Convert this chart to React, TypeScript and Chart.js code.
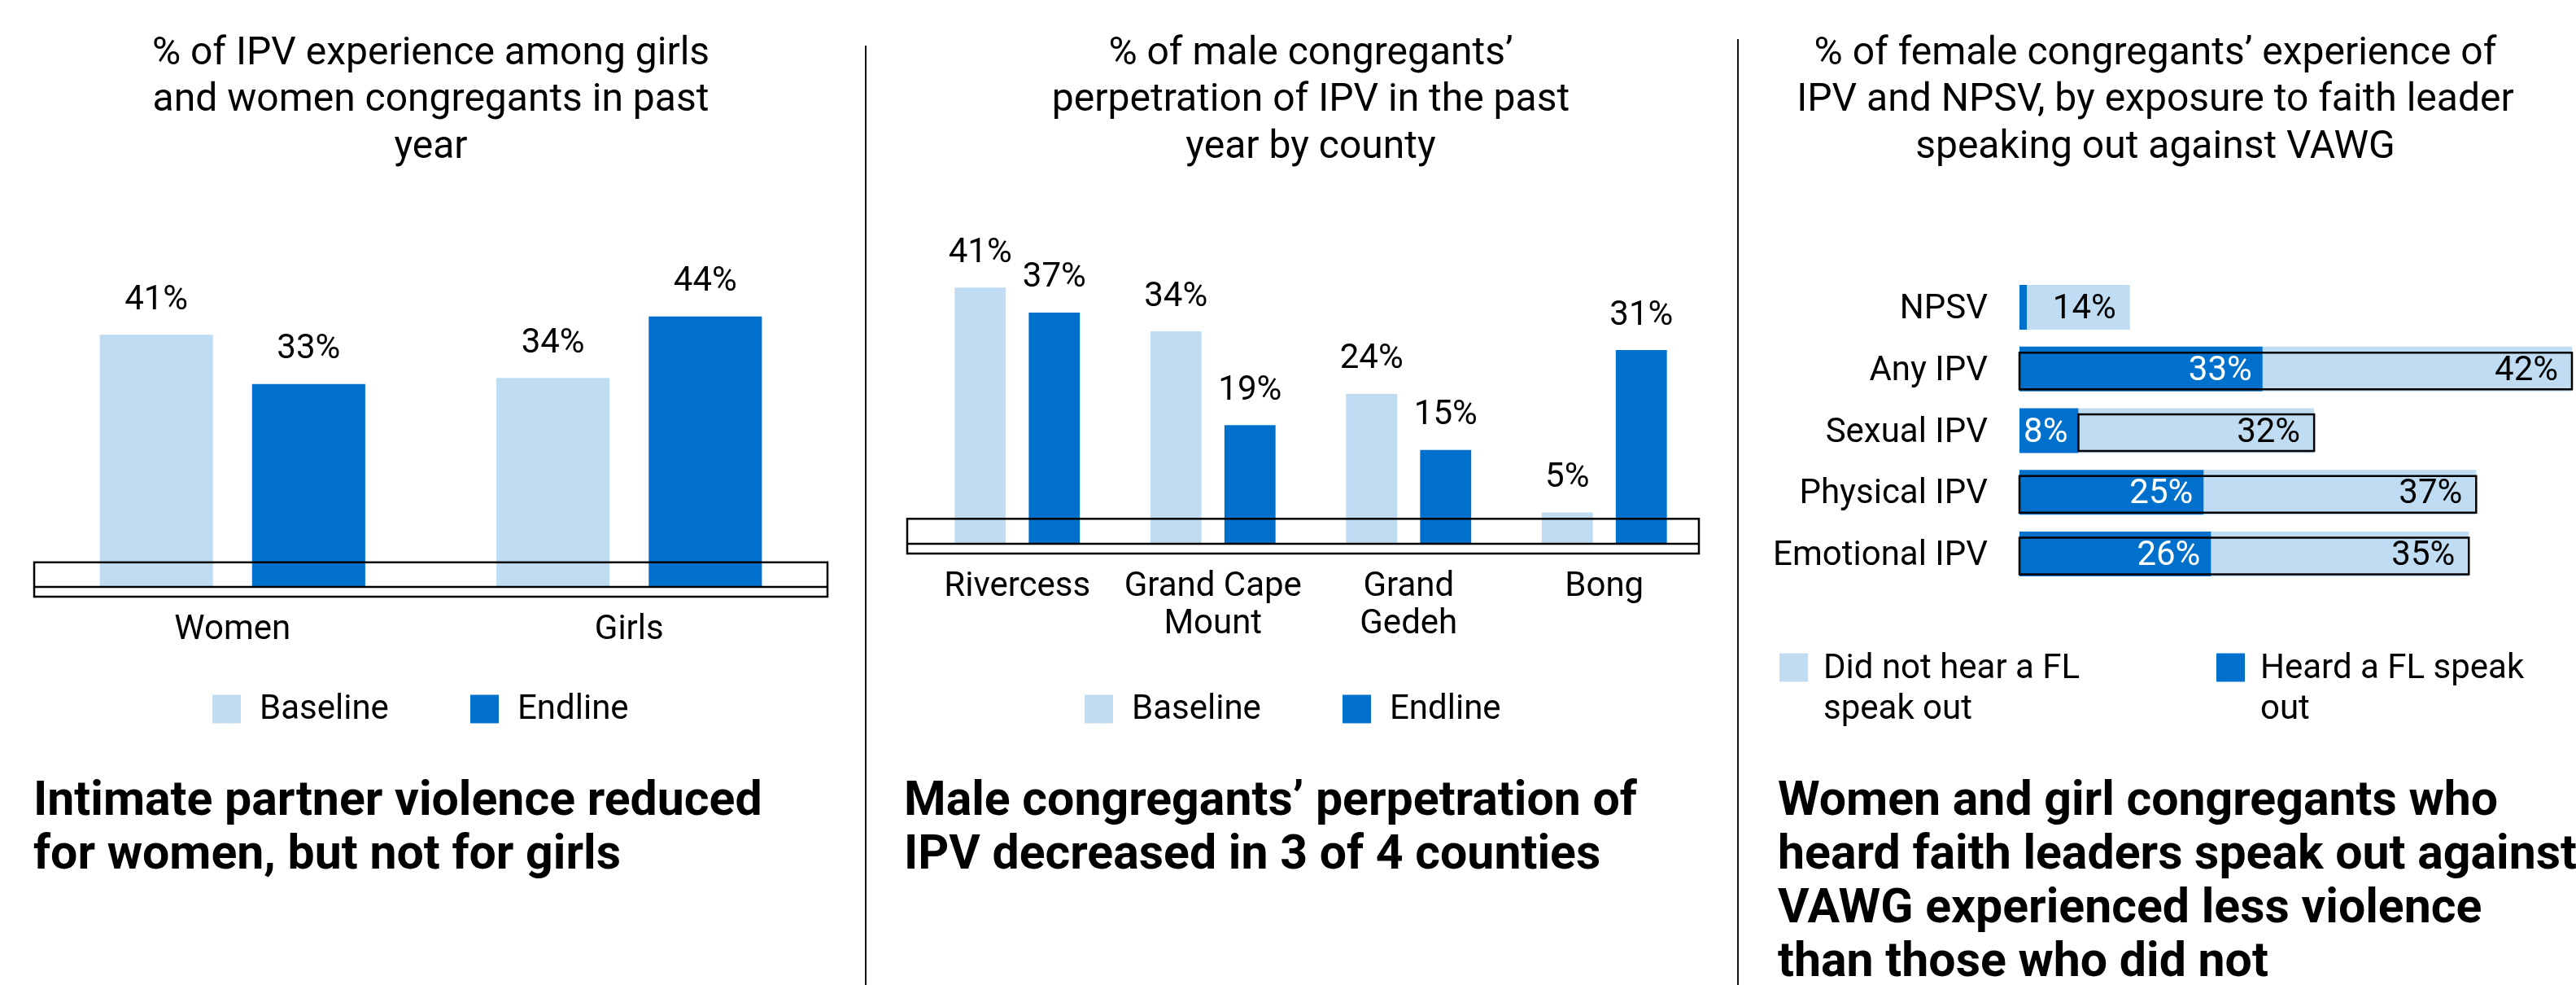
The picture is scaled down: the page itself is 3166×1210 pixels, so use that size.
import React, { useEffect, useRef } from 'react';
import { Chart, registerables } from 'chart.js';

Chart.register(...registerables);
Chart.defaults.font.family = 'Roboto';
Chart.defaults.color = '#000';

const LIGHT = '#BFDCF2';
const DARK = '#0070CD';

// ---------- Chart 1 data ----------
const title1 = ['% of IPV experience among girls', 'and women congregants in past', 'year'];
const categories1 = ['Women', 'Girls'];
const baseline1 = [41, 34];
const endline1 = [33, 44];
const headline1 = ['Intimate partner violence reduced', 'for women, but not for girls'];

// ---------- Chart 2 data ----------
const title2 = ['% of male congregants\u2019', 'perpetration of IPV in the past', 'year by county'];
const categories2 = [['Rivercess'], ['Grand Cape', 'Mount'], ['Grand', 'Gedeh'], ['Bong']];
const baseline2 = [41, 34, 24, 5];
const endline2 = [37, 19, 15, 31];
const headline2 = ['Male congregants\u2019 perpetration of', 'IPV decreased in 3 of 4 counties'];

// ---------- Chart 3 data ----------
const title3 = [
  '% of female congregants\u2019 experience of',
  'IPV and NPSV, by exposure to faith leader',
  'speaking out against VAWG',
];
const categories3 = ['NPSV', 'Any IPV', 'Sexual IPV', 'Physical IPV', 'Emotional IPV'];
const heard3 = [1, 33, 8, 25, 26];
const notHeard3 = [14, 42, 32, 37, 35];
const boxFrom3 = [null, 0, 8, 0, 0];
const headline3 = [
  'Women and girl congregants who',
  'heard faith leaders speak out against',
  'VAWG experienced less violence',
  'than those who did not',
];

const legendLabels12 = ['Baseline', 'Endline'];
const legendLabels3 = [['Did not hear a FL', 'speak out'], ['Heard a FL speak', 'out']];

// ---------- plugins ----------
const valueLabels = {
  id: 'valueLabels',
  afterDatasetsDraw(chart: any, _args: any, opts: any) {
    const ctx = chart.ctx;
    ctx.save();
    ctx.font = `${opts.size}px Roboto`;
    const dy = opts.dy ?? 0;
    chart.data.datasets.forEach((ds: any, di: number) => {
      const meta = chart.getDatasetMeta(di);
      meta.data.forEach((el: any, i: number) => {
        const v = ds.data[i];
        if (v < (opts.minValue ?? 0)) return;
        const text = v + '%';
        ctx.textBaseline = 'middle';
        if (opts.mode === 'top') {
          ctx.textAlign = 'center';
          ctx.fillStyle = opts.color;
          ctx.fillText(text, el.x, el.y - opts.offset + dy);
        } else {
          ctx.textAlign = 'right';
          ctx.fillStyle = opts.colors[di];
          ctx.fillText(text, el.x - opts.pads[di], el.y + dy);
        }
      });
    });
    ctx.restore();
  },
};

const axisBox = {
  id: 'axisBox',
  afterDatasetsDraw(chart: any, _args: any, opts: any) {
    const { ctx, chartArea, scales } = chart;
    const top = scales.y.getPixelForValue(opts.topValue);
    const mid = scales.y.getPixelForValue(0);
    const bottom = mid + opts.below;
    const left = chartArea.left + opts.dLeft;
    const right = chartArea.right + opts.dRight;
    ctx.save();
    ctx.strokeStyle = '#000';
    ctx.lineWidth = opts.lineWidth;
    ctx.strokeRect(left, top, right - left, bottom - top);
    ctx.beginPath();
    ctx.moveTo(left, mid);
    ctx.lineTo(right, mid);
    ctx.stroke();
    ctx.restore();
  },
};

const segmentBoxes = {
  id: 'segmentBoxes',
  afterDatasetsDraw(chart: any, _args: any, opts: any) {
    const { ctx, scales } = chart;
    const meta = chart.getDatasetMeta(opts.datasetIndex);
    ctx.save();
    ctx.strokeStyle = '#000';
    ctx.lineWidth = opts.lineWidth;
    opts.from.forEach((f: number | null, i: number) => {
      if (f === null || f === undefined) return;
      const el = meta.data[i];
      const start = scales.x.getPixelForValue(f);
      const end = el.x;
      const top = el.y - el.height / 2 + opts.insetTop;
      const bottom = el.y + el.height / 2 - opts.insetBottom;
      ctx.strokeRect(start, top, end - start, bottom - top);
    });
    ctx.restore();
  },
};

const boxLegend = {
  id: 'boxLegend',
  afterDraw(chart: any, _args: any, opts: any) {
    const ctx = chart.ctx;
    ctx.save();
    ctx.font = `${opts.size}px Roboto`;
    ctx.textBaseline = 'middle';
    ctx.textAlign = 'left';
    opts.items.forEach((it: any, i: number) => {
      const bx = opts.xs[i];
      ctx.fillStyle = it.color;
      ctx.fillRect(bx, opts.boxY - opts.box / 2, opts.box, opts.box);
      ctx.fillStyle = '#000';
      const lines = Array.isArray(it.text) ? it.text : [it.text];
      lines.forEach((ln: string, k: number) => {
        ctx.fillText(ln, bx + opts.textOffset, opts.textY + k * opts.lineStep);
      });
    });
    ctx.restore();
  },
};

const titleOpts = (text: string[], padBottom: number) => ({
  display: true,
  text,
  color: '#000',
  font: { size: 48, weight: 'normal' as const, lineHeight: 1.2 },
  padding: { top: 38, bottom: padBottom },
});

function makeVerticalConfig(p: {
  title: string[];
  titlePad: number;
  categories: any[];
  baseline: number[];
  endline: number[];
  yMax: number;
  padLeft: number;
  padRight: number;
  padBottom: number;
  axisHeight: number;
  catPct: number;
  barPct: number;
  boxDL: number;
  boxDR: number;
  legendXs: number[];
}) {
  return {
    type: 'bar' as const,
    data: {
      labels: p.categories,
      datasets: [
        { label: legendLabels12[0], data: p.baseline, backgroundColor: LIGHT, categoryPercentage: p.catPct, barPercentage: p.barPct },
        { label: legendLabels12[1], data: p.endline, backgroundColor: DARK, categoryPercentage: p.catPct, barPercentage: p.barPct },
      ],
    },
    options: {
      responsive: false,
      animation: false as const,
      devicePixelRatio: 1,
      layout: { padding: { left: p.padLeft, right: p.padRight, top: 0, bottom: p.padBottom } },
      scales: {
        x: {
          grid: { display: false },
          border: { display: false },
          ticks: { color: '#000', font: { size: 42, lineHeight: 1.1 }, padding: 22, maxRotation: 0, autoSkip: false },
          afterFit: (s: any) => { s.height = p.axisHeight; },
        },
        y: { display: false, min: 0, max: p.yMax },
      },
      plugins: {
        legend: { display: false },
        tooltip: { enabled: false },
        title: titleOpts(p.title, p.titlePad),
        valueLabels: { mode: 'top', size: 42, offset: 43, color: '#000', dy: 1 },
        axisBox: { topValue: 4, below: 12, dLeft: p.boxDL, dRight: p.boxDR, lineWidth: 2.5 },
        boxLegend: {
          size: 42,
          items: [
            { text: legendLabels12[0], color: LIGHT },
            { text: legendLabels12[1], color: DARK },
          ],
          xs: p.legendXs,
          boxY: 871,
          box: 35,
          textOffset: 58,
          textY: 872,
          lineStep: 50,
        },
      },
    },
    plugins: [valueLabels, axisBox, boxLegend],
  };
}

const config1 = () =>
  makeVerticalConfig({
    title: title1,
    titlePad: 57,
    categories: categories1,
    baseline: baseline1,
    endline: endline1,
    yMax: 60,
    padLeft: 42,
    padRight: 47,
    padBottom: 920 - 721 - 70,
    axisHeight: 70,
    catPct: 0.768,
    barPct: 0.743,
    boxDL: 0,
    boxDR: 0,
    legendXs: [261, 578],
  });

const config2 = () =>
  makeVerticalConfig({
    title: title2,
    titlePad: 35,
    categories: categories2,
    baseline: baseline2,
    endline: endline2,
    yMax: 55,
    padLeft: 65,
    padRight: 44,
    padBottom: 920 - 668 - 117,
    axisHeight: 117,
    catPct: 0.757,
    barPct: 0.69,
    boxDL: -15,
    boxDR: -4,
    legendXs: [268, 585],
  });

const config3 = () => ({
  type: 'bar' as const,
  data: {
    labels: categories3,
    datasets: [
      { label: 'Heard a FL speak out', data: heard3, backgroundColor: DARK, categoryPercentage: 0.8, barPercentage: 0.9075 },
      { label: 'Did not hear a FL speak out', data: notHeard3, backgroundColor: LIGHT, categoryPercentage: 0.8, barPercentage: 0.9075 },
    ],
  },
  options: {
    indexAxis: 'y' as const,
    responsive: false,
    animation: false as const,
    devicePixelRatio: 1,
    layout: { padding: { left: 0, right: 46, top: 0, bottom: 920 - 718.4 } },
    scales: {
      x: { stacked: true, display: false, min: 0, max: 75 },
      y: {
        stacked: true,
        grid: { display: false },
        border: { display: false },
        ticks: { color: '#000', font: { size: 42, lineHeight: 1.1 }, padding: 31, autoSkip: false, labelOffset: 3 },
        afterFit: (s: any) => { s.width = 345; },
      },
    },
    plugins: {
      legend: { display: false },
      tooltip: { enabled: false },
      title: titleOpts(title3, 128.8),
      valueLabels: { mode: 'end', size: 42, minValue: 3, colors: ['#FFFFFF', '#000000'], pads: [13, 17], dy: 3 },
      segmentBoxes: { datasetIndex: 1, from: boxFrom3, insetTop: 7.5, insetBottom: 2.5, lineWidth: 2.5 },
      boxLegend: {
        size: 42,
        items: [
          { text: legendLabels3[0], color: LIGHT },
          { text: legendLabels3[1], color: DARK },
        ],
        xs: [50, 587],
        boxY: 820,
        box: 35,
        textOffset: 54,
        textY: 822,
        lineStep: 50,
      },
    },
  },
  plugins: [valueLabels, segmentBoxes, boxLegend],
});

function ChartCanvas({ left, width, height, make }: { left: number; width: number; height: number; make: () => any }) {
  const ref = useRef<HTMLCanvasElement | null>(null);
  useEffect(() => {
    if (!ref.current) return;
    const chart = new Chart(ref.current, make());
    return () => chart.destroy();
  }, []);
  return (
    <canvas
      ref={ref}
      width={width}
      height={height}
      style={{ position: 'absolute', left, top: 0, width, height, display: 'block' }}
    />
  );
}

function Headline({ left, lines }: { left: number; lines: string[] }) {
  return (
    <div
      style={{
        position: 'absolute',
        left,
        top: 947.5,
        fontFamily: 'Roboto',
        fontWeight: 700,
        fontSize: 59,
        lineHeight: '66px',
        color: '#000',
        whiteSpace: 'nowrap',
      }}
    >
      {lines.map((l, i) => (
        <div key={i}>{l}</div>
      ))}
    </div>
  );
}

export default function App() {
  return (
    <>
      <style>{`html,body{margin:0;padding:0;background:#fff;}`}</style>
      <div style={{ position: 'relative', width: 3166, height: 1210, overflow: 'hidden', background: '#fff' }}>
        <ChartCanvas left={0} width={1064} height={920} make={config1} />
        <ChartCanvas left={1065} width={1071} height={920} make={config2} />
        <ChartCanvas left={2137} width={1070} height={920} make={config3} />
        <div style={{ position: 'absolute', left: 1063, top: 56, width: 2, height: 1154, background: '#111' }} />
        <div style={{ position: 'absolute', left: 2135, top: 48, width: 2, height: 1162, background: '#111' }} />
        <Headline left={41} lines={headline1} />
        <Headline left={1111} lines={headline2} />
        <Headline left={2185} lines={headline3} />
      </div>
    </>
  );
}
